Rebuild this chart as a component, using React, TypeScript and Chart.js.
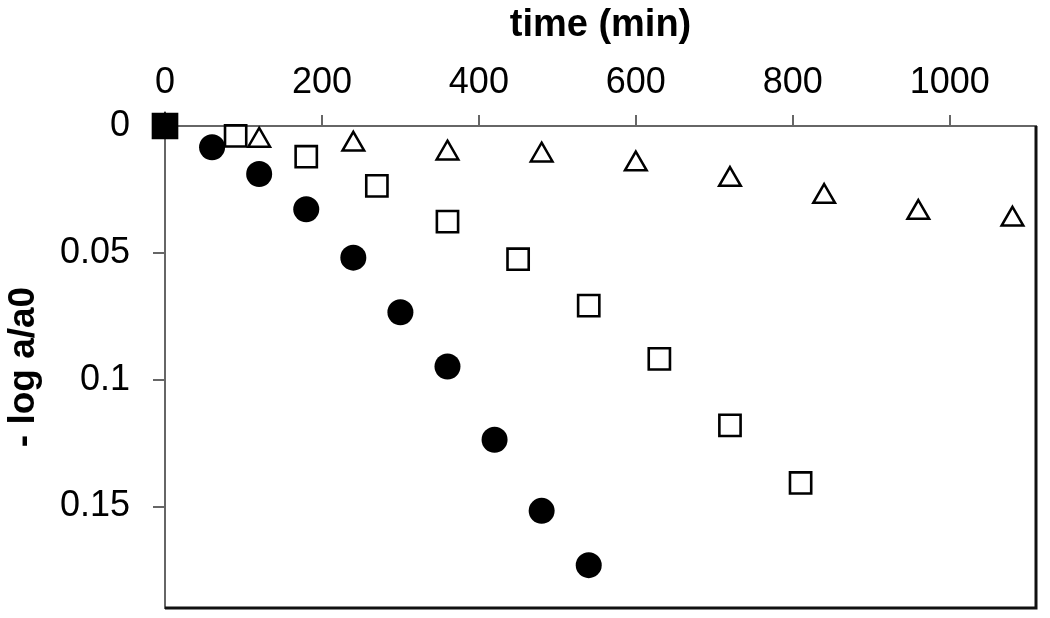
import { useEffect, useRef } from "react";
import { Chart, registerables } from "chart.js";

Chart.register(...registerables);

// Series: filled circles
const circleTimes = [0, 60, 120, 180, 240, 300, 360, 420, 480, 540];
const circleValues = [0, 0.0084, 0.0189, 0.0328, 0.0519, 0.0734, 0.0948, 0.1237, 0.1517, 0.1731];

// Series: open squares
const squareTimes = [0, 90, 180, 270, 360, 450, 540, 630, 720, 810];
const squareValues = [0, 0.0039, 0.0121, 0.0236, 0.0377, 0.0525, 0.0708, 0.0918, 0.118, 0.1407];

// Series: open triangles
const triangleTimes = [0, 120, 240, 360, 480, 600, 720, 840, 960, 1080];
const triangleValues = [0, 0.0057, 0.0072, 0.0107, 0.0115, 0.015, 0.0211, 0.0278, 0.0341, 0.0368];

const xTitle = "time (min)";
const yTitle = "- log a/a0";

const toPoints = (xs: number[], ys: number[]) => xs.map((x, i) => ({ x, y: ys[i] }));

const FONT = "'Liberation Sans', Arial, Helvetica, sans-serif";

const framePlugin = {
  id: "frame",
  beforeDatasetsDraw(chart: any) {
    const { ctx, chartArea } = chart;
    const { left, right, top, bottom } = chartArea;
    ctx.save();
    ctx.strokeStyle = "#111";
    ctx.lineWidth = 3;
    ctx.beginPath();
    ctx.moveTo(left, bottom);
    ctx.lineTo(right, bottom);
    ctx.lineTo(right, top);
    ctx.stroke();
    ctx.restore();
  },
};

const zeroPad = (s: any) => {
  s.paddingTop = 0;
  s.paddingBottom = 0;
  s.paddingLeft = 0;
  s.paddingRight = 0;
};

export default function App() {
  const ref = useRef<HTMLCanvasElement | null>(null);

  useEffect(() => {
    document.body.style.margin = "0";
    const canvas = ref.current;
    if (!canvas) return;
    const squareFill = squareTimes.map((_, i) => (i === 0 ? "#000" : "rgba(0,0,0,0)"));
    const squareRadius = squareTimes.map((_, i) => (i === 0 ? 17 : 15));
    const chart = new Chart(canvas, {
      type: "scatter",
      data: {
        datasets: [
          {
            label: "squares",
            data: toPoints(squareTimes, squareValues),
            pointStyle: "rect",
            pointRadius: squareRadius,
            pointBackgroundColor: squareFill,
            pointBorderColor: "#000",
            pointBorderWidth: 2.6,
            clip: false,
          } as any,
          {
            label: "circles",
            data: toPoints(circleTimes, circleValues),
            pointStyle: "circle",
            pointRadius: 13,
            pointBackgroundColor: "#000",
            pointBorderColor: "#000",
            pointBorderWidth: 0,
            clip: false,
          } as any,
          {
            label: "triangles",
            data: toPoints(triangleTimes, triangleValues),
            pointStyle: "triangle",
            pointRadius: 12.5,
            pointBackgroundColor: "rgba(0,0,0,0)",
            pointBorderColor: "#000",
            pointBorderWidth: 2.5,
            clip: false,
          } as any,
        ],
      },
      options: {
        animation: false,
        responsive: false,
        events: [],
        layout: { padding: { left: 0, top: 0, right: 14, bottom: 10 }, autoPadding: false } as any,
        plugins: { legend: { display: false }, tooltip: { enabled: false } },
        scales: {
          x: {
            type: "linear",
            position: "top",
            min: 0,
            max: 1110,
            afterFit: (s: any) => {
              s.height = 126;
              zeroPad(s);
            },
            ticks: {
              stepSize: 200,
              includeBounds: false,
              padding: 10,
              color: "#000",
              font: { family: FONT, size: 36 },
              callback: (v: any) => String(v),
            } as any,
            grid: { drawOnChartArea: false, drawTicks: true, tickLength: 11, color: "#666", lineWidth: 2 },
            border: { display: true, color: "#666", width: 2 },
            title: {
              display: true,
              text: xTitle,
              color: "#000",
              font: { family: FONT, size: 38, weight: "bold" },
              padding: { top: 3, bottom: 0 },
            },
          },
          y: {
            type: "linear",
            reverse: true,
            min: 0,
            max: 0.19,
            afterFit: (s: any) => {
              s.width = 165;
              zeroPad(s);
            },
            ticks: {
              stepSize: 0.05,
              includeBounds: false,
              padding: 23,
              color: "#000",
              font: { family: FONT, size: 36 },
              callback: (v: any) => String(Math.round(Number(v) * 1000) / 1000),
            } as any,
            grid: { drawOnChartArea: false, drawTicks: true, tickLength: 12, color: "#666", lineWidth: 2 },
            border: { display: true, color: "#666", width: 2 },
            title: {
              display: true,
              text: yTitle,
              color: "#000",
              font: { family: FONT, size: 37, weight: "bold" },
              padding: { top: 2, bottom: 0 },
            },
          },
        },
      },
      plugins: [framePlugin],
    });
    return () => chart.destroy();
  }, []);

  return (
    <div style={{ position: "absolute", left: 0, top: 0, width: 1050, height: 618 }}>
      <canvas ref={ref} width={1050} height={618} style={{ width: 1050, height: 618, display: "block" }} />
    </div>
  );
}
